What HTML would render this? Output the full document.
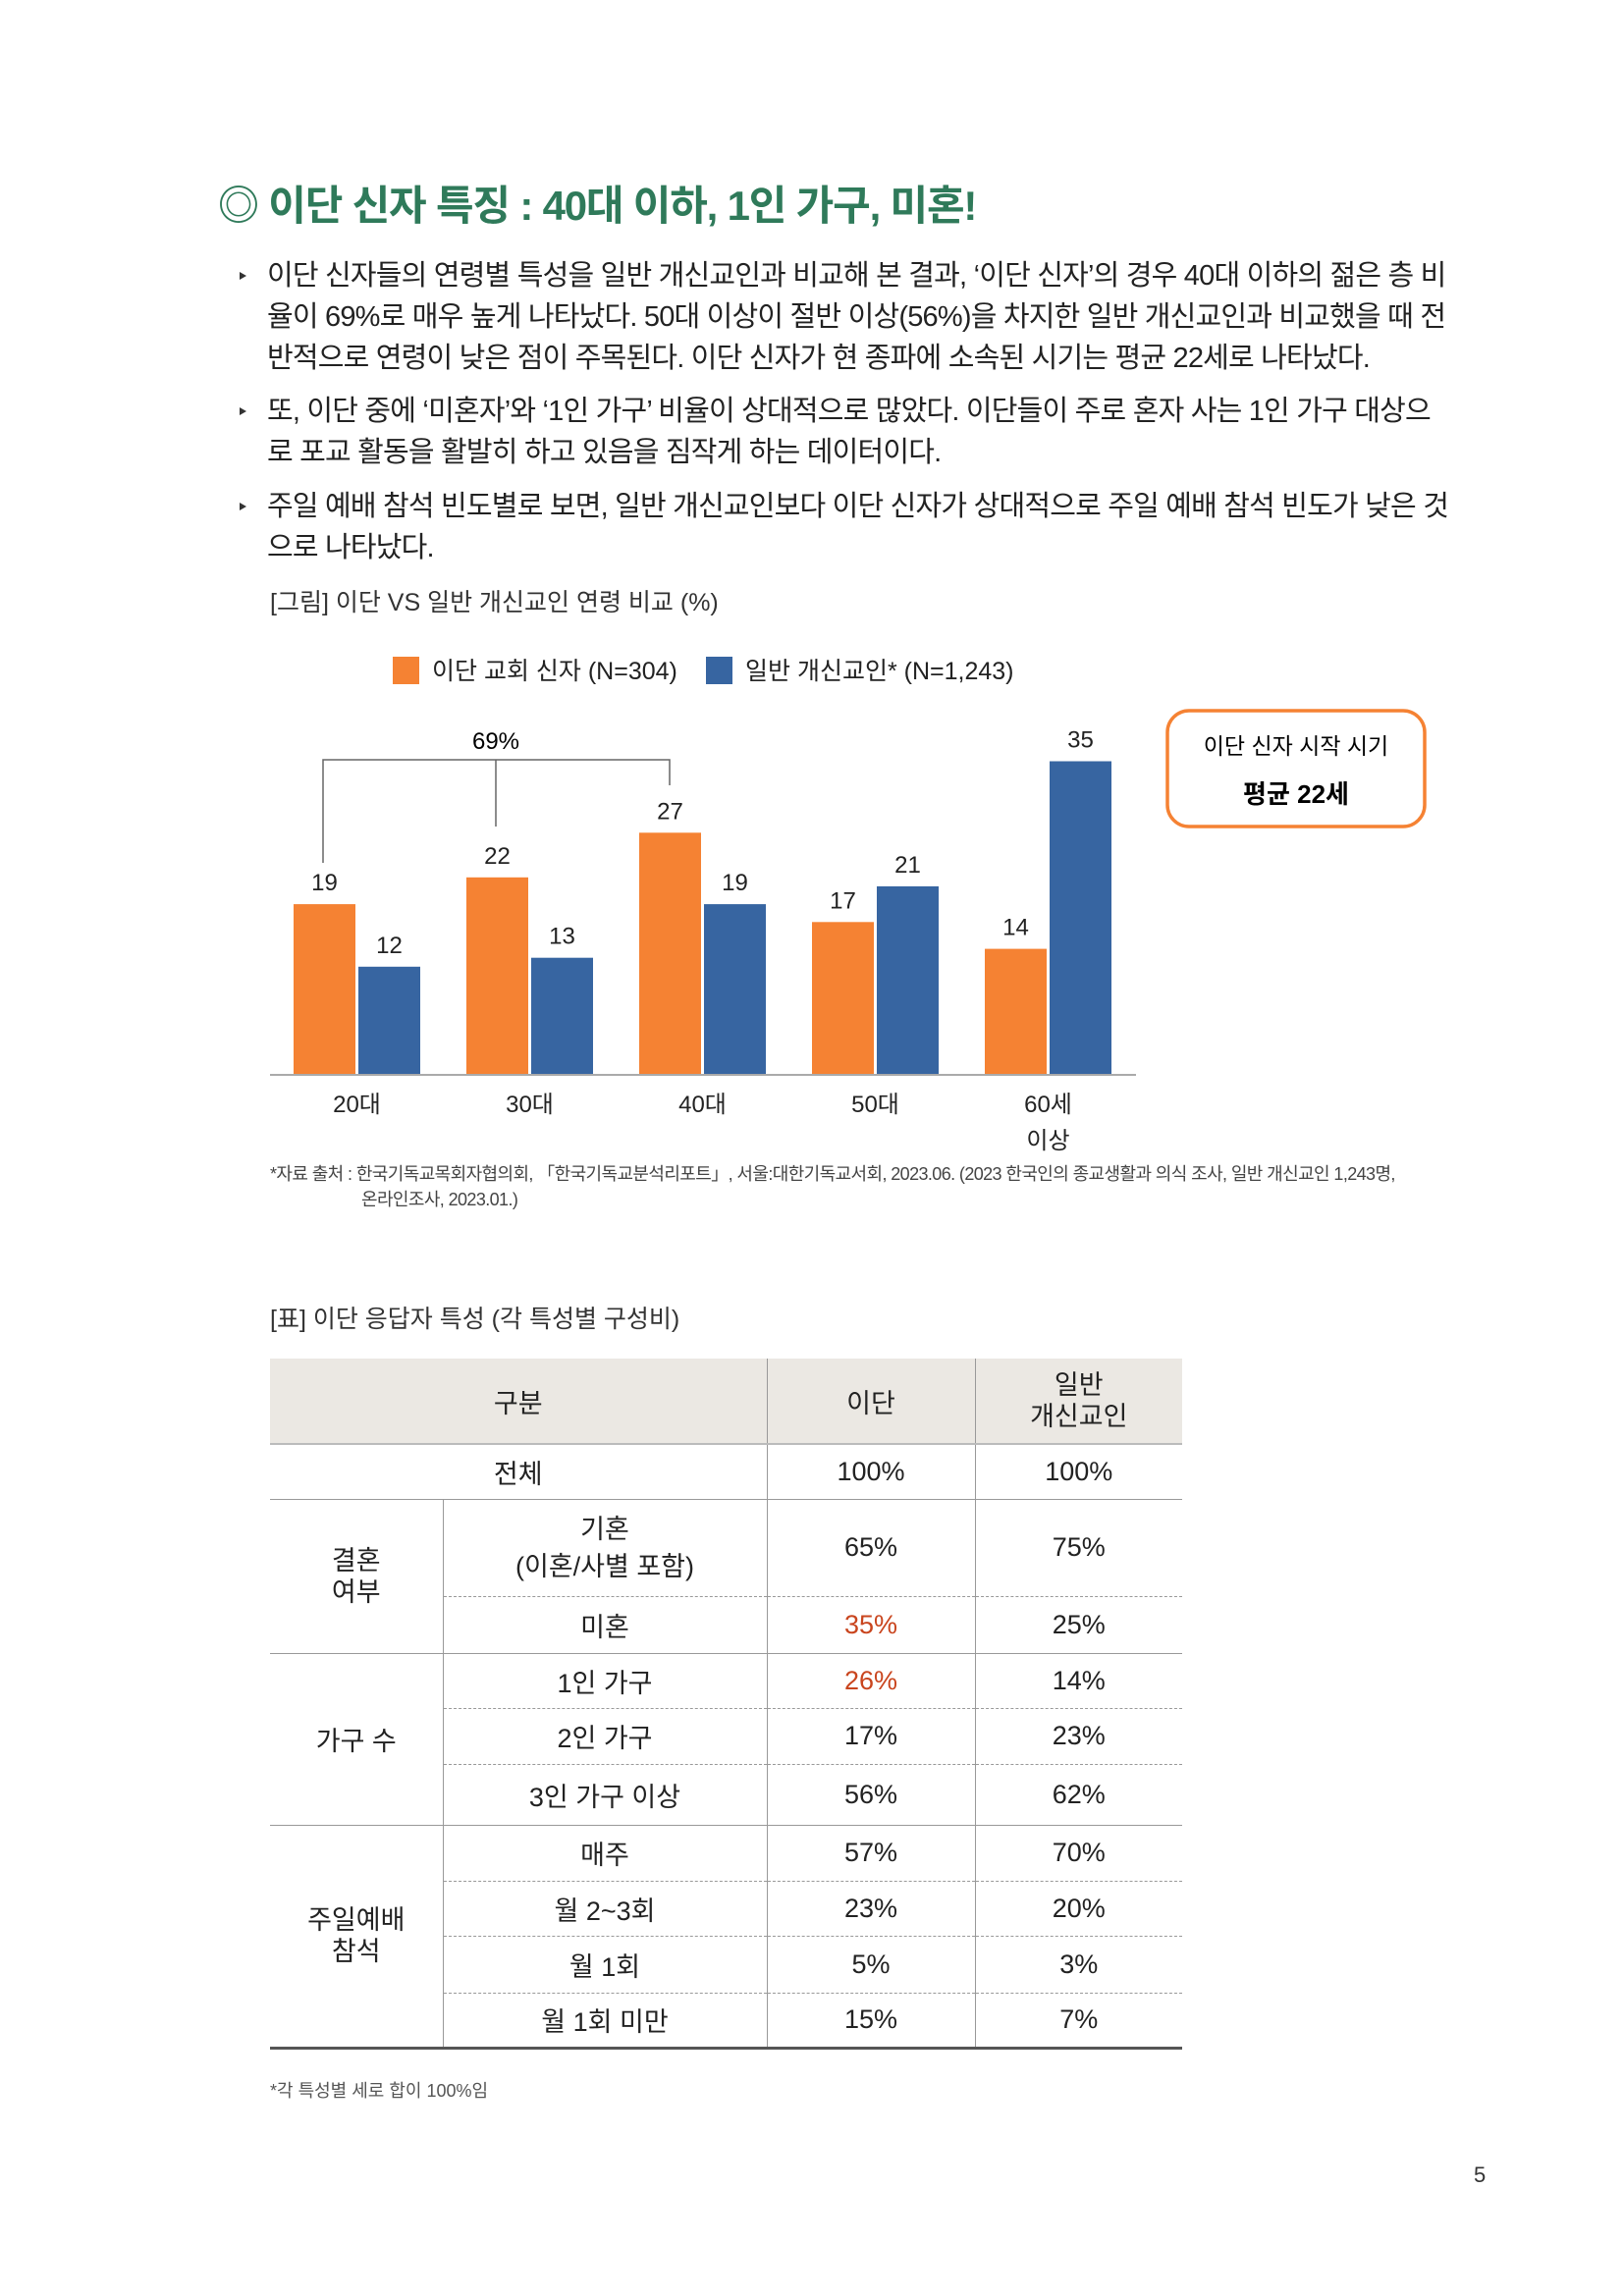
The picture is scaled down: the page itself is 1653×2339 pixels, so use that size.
<!DOCTYPE html>
<html><head><meta charset="utf-8">
<style>
body{margin:0;width:1653px;height:2339px;background:#fff;position:relative;font-family:"Liberation Sans","Noto Sans CJK KR",sans-serif;color:#222;overflow:hidden}
.a{position:absolute;white-space:nowrap}
.title{left:222px;top:176px;font-size:42px;font-weight:bold;color:#2f7a5a;letter-spacing:-1.2px}
.b{left:272px;font-size:29px;line-height:42px;letter-spacing:-0.8px}
.dot{position:absolute;left:-28px;top:17px;width:0;height:0;border-left:7px solid #333;border-top:4px solid transparent;border-bottom:4px solid transparent}
table{position:absolute;left:275px;top:1384px;width:936px;border-collapse:collapse;font-size:27px;text-align:center}
td{padding:0}
.hd td{background:#ebe8e3;height:86px;border-bottom:2px solid #bbb}
.sd{border-bottom:1px dashed #999}
.so{border-bottom:1.5px solid #999}
.vl{border-left:1.5px solid #999}
.red{color:#c9451e}
</style></head><body>
<div class="a title">◎ 이단 신자 특징 : 40대 이하, 1인 가구, 미혼!</div>
<div class="a b" style="top:260px"><span class="dot"></span>이단 신자들의 연령별 특성을 일반 개신교인과 비교해 본 결과, ‘이단 신자’의 경우 40대 이하의 젊은 층 비<br>율이 69%로 매우 높게 나타났다. 50대 이상이 절반 이상(56%)을 차지한 일반 개신교인과 비교했을 때 전<br>반적으로 연령이 낮은 점이 주목된다. 이단 신자가 현 종파에 소속된 시기는 평균 22세로 나타났다.</div>
<div class="a b" style="top:398px"><span class="dot"></span>또, 이단 중에 ‘미혼자’와 ‘1인 가구’ 비율이 상대적으로 많았다. 이단들이 주로 혼자 사는 1인 가구 대상으<br>로 포교 활동을 활발히 하고 있음을 짐작게 하는 데이터이다.</div>
<div class="a b" style="top:495px"><span class="dot"></span>주일 예배 참석 빈도별로 보면, 일반 개신교인보다 이단 신자가 상대적으로 주일 예배 참석 빈도가 낮은 것<br>으로 나타났다.</div>
<div class="a" style="left:275px;top:594px;font-size:25px;color:#333">[그림] 이단 VS 일반 개신교인 연령 비교 (%)</div>

<svg class="a" style="left:0;top:0" width="1653" height="1300" id="chart">
<g id="legend" font-size="25" fill="#222">
<rect x="400" y="669" width="27" height="28" fill="#f58233"/>
<text x="440" y="692">이단 교회 신자 (N=304)</text>
<rect x="719" y="669" width="27" height="28" fill="#3765a1"/>
<text x="759" y="692">일반 개신교인* (N=1,243)</text>
</g>
<g id="bars"></g>
<line x1="275" y1="1095" x2="1157" y2="1095" stroke="#aaa" stroke-width="2"/>
<g stroke="#666" stroke-width="1.5" fill="none">
<path d="M329 879 V774 H682 V800 M505 774 V842"/>
</g>
<text x="505" y="763" font-size="24" text-anchor="middle">69%</text>
<rect x="1189" y="724" width="262" height="118" rx="22" fill="#fff" stroke="#f58233" stroke-width="3.5"/>
<text x="1320" y="768" font-size="23" text-anchor="middle">이단 신자 시작 시기</text>
<text x="1320" y="818" font-size="26" font-weight="bold" text-anchor="middle">평균 22세</text>
</svg>
<div class="a" style="left:275px;top:1183px;font-size:18px;line-height:26px;color:#444;letter-spacing:-0.6px">*자료 출처 : 한국기독교목회자협의회, 「한국기독교분석리포트」, 서울:대한기독교서회, 2023.06. (2023 한국인의 종교생활과 의식 조사, 일반 개신교인 1,243명,<br><span style="padding-left:93px">온라인조사, 2023.01.)</span></div>

<div class="a" style="left:275px;top:1324px;font-size:25px;color:#333">[표] 이단 응답자 특성 (각 특성별 구성비)</div>
<table style="top:1384px;width:929px">
<colgroup><col style="width:176px"><col style="width:330px"><col style="width:212px"><col style="width:211px"></colgroup>
<tr class="hd"><td colspan="2">구분</td><td class="vl">이단</td><td class="vl" style="line-height:32px">일반<br>개신교인</td></tr>
<tr style="height:56px"><td colspan="2" class="so">전체</td><td class="so vl">100%</td><td class="so vl">100%</td></tr>
<tr style="height:99px"><td rowspan="2" class="so" style="line-height:32px">결혼<br>여부</td><td class="sd vl" style="line-height:38px">기혼<br>(이혼/사별 포함)</td><td class="sd vl">65%</td><td class="sd vl">75%</td></tr>
<tr style="height:58px"><td class="so vl">미혼</td><td class="so vl red">35%</td><td class="so vl">25%</td></tr>
<tr style="height:56px"><td rowspan="3" class="so">가구 수</td><td class="sd vl">1인 가구</td><td class="sd vl red">26%</td><td class="sd vl">14%</td></tr>
<tr style="height:57px"><td class="sd vl">2인 가구</td><td class="sd vl">17%</td><td class="sd vl">23%</td></tr>
<tr style="height:62px"><td class="so vl">3인 가구 이상</td><td class="so vl">56%</td><td class="so vl">62%</td></tr>
<tr style="height:57px"><td rowspan="4" style="line-height:32px;border-bottom:3px solid #555">주일예배<br>참석</td><td class="sd vl">매주</td><td class="sd vl">57%</td><td class="sd vl">70%</td></tr>
<tr style="height:56px"><td class="sd vl">월 2~3회</td><td class="sd vl">23%</td><td class="sd vl">20%</td></tr>
<tr style="height:58px"><td class="sd vl">월 1회</td><td class="sd vl">5%</td><td class="sd vl">3%</td></tr>
<tr style="height:56px"><td class="vl" style="border-bottom:3px solid #555">월 1회 미만</td><td class="vl" style="border-bottom:3px solid #555">15%</td><td class="vl" style="border-bottom:3px solid #555">7%</td></tr>
</table>
<div class="a" style="left:275px;top:2116px;font-size:18px;color:#555">*각 특성별 세로 합이 100%임</div>
<div class="a" style="left:1501px;top:2203px;font-size:22px;color:#333">5</div>

<script>
const categories = ["20대","30대","40대","50대","60세"];
const catLine2 = ["","","","","이상"];
const idanValues = [19,22,27,17,14];
const generalValues = [12,13,19,21,35];
const NS="http://www.w3.org/2000/svg";
const baseY=1094, unit=9.1, x0=299, step=176, bw=63, gap=3;
function yScale(v){return baseY - v*unit;}
function xGroup(i){return x0 + i*step;}
const g=document.getElementById('bars');
function mk(tag,attrs){const e=document.createElementNS(NS,tag);for(const k in attrs)e.setAttribute(k,attrs[k]);g.appendChild(e);return e;}
categories.forEach((c,i)=>{
  [[idanValues,"#f58233",0,"idan"],[generalValues,"#3765a1",1,"general"]].forEach(([arr,col,k,nm])=>{
    const x=xGroup(i)+k*(bw+gap), v=arr[i];
    const r=mk('rect',{x:x,y:yScale(v),width:bw,height:baseY-yScale(v),fill:col});
    
    
    const t=mk('text',{x:x+bw/2,y:yScale(v)-14,'font-size':24,'text-anchor':'middle',fill:'#222'});
    t.textContent=v;
    
    
  });
  const cx=xGroup(i)+bw+gap/2;
  const t=mk('text',{x:cx,y:1133,'font-size':24,'text-anchor':'middle',fill:'#222'});
  t.textContent=c;
  
  
  if(catLine2[i]){
    const t2=mk('text',{x:cx,y:1170,'font-size':24,'text-anchor':'middle',fill:'#222'});
    t2.textContent=catLine2[i];
    
    
  }
});
</script>
</body></html>
